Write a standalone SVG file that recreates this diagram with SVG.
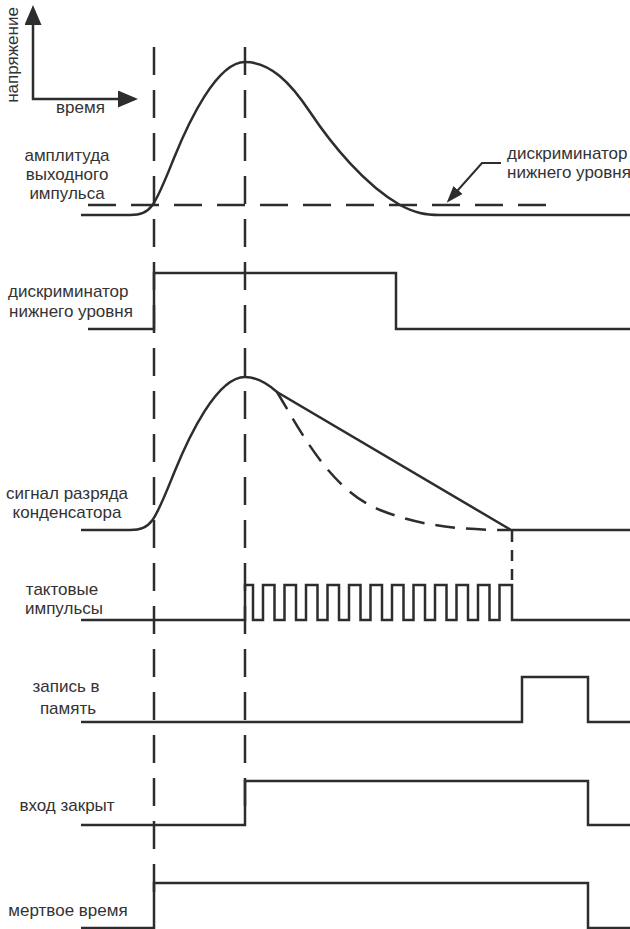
<svg xmlns="http://www.w3.org/2000/svg" width="630" height="929" viewBox="0 0 630 929">
<defs>
<marker id="ah" viewBox="0 0 20 17" refX="13" refY="8.5" markerWidth="20" markerHeight="17" markerUnits="userSpaceOnUse" orient="auto-start-reverse"><path d="M0,0 L20,8.5 L0,17 z" fill="#2d2d2d"/></marker>
<marker id="ahs" viewBox="0 0 17 12" refX="12" refY="6" markerWidth="17" markerHeight="12" markerUnits="userSpaceOnUse" orient="auto"><path d="M0,0 L17,6 L0,12 z" fill="#2d2d2d"/></marker>
</defs>
<style>
.sig{fill:none;stroke:#2d2d2d;stroke-width:2.5;stroke-linejoin:miter}
.guide{fill:none;stroke:#2d2d2d;stroke-width:2.5;stroke-dasharray:28 15}
.lbl{font-family:"Liberation Sans",Arial,sans-serif;font-size:17px;fill:#333}
.c{text-anchor:middle}
</style>
<rect width="630" height="929" fill="#fff"/>

<g id="axes">
<path class="sig" d="M33,12 V99 H131" marker-start="url(#ah)" marker-end="url(#ah)"/>
<text class="lbl c" transform="translate(18,55) rotate(-90)">напряжение</text>
<text class="lbl" x="56" y="113">время</text>
</g>

<g id="guides">
<path class="guide" d="M154,47 V892"/>
<path class="guide" d="M245,47 V806"/>
<path class="guide" d="M88,205 H547"/>
<path class="guide" d="M512,531 V585" style="stroke-dasharray:11 8"/>
<path class="guide" d="M277,392 C300,430 330,490 380,510 C420,526 460,530 510,530" style="stroke-dasharray:20 11"/>
</g>

<g id="output-pulse">
<path class="sig" d="M81,215 H130 C152,215 155,205 174,158 C189,121 217,62 245,62 C270,62 290,82 310,112 C332,145 365,185 400,205 C415,213 425,215 440,215 H630"/>
<text class="lbl c" x="67" y="161">амплитуда</text>
<text class="lbl c" x="67" y="180">выходного</text>
<text class="lbl c" x="67" y="199">импульса</text>
</g>

<g id="threshold-label">
<text class="lbl" x="507" y="159">дискриминатор</text>
<text class="lbl" x="507" y="178">нижнего уровня</text>
<path class="sig" style="stroke-width:2" d="M501,163 H482 L450,199" marker-end="url(#ahs)"/>
</g>

<g id="discriminator">
<path class="sig" d="M88,329 H154 V273 H396 V329 H630"/>
<text class="lbl" x="8" y="297">дискриминатор</text>
<text class="lbl" x="9" y="317">нижнего уровня</text>
</g>

<g id="capacitor">
<path class="sig" d="M81,530 H130 C152,530 155,520 174,473 C189,436 217,377 245,377 C258,377 268,384 277,392 L511,530 H630"/>
<text class="lbl c" x="67" y="499">сигнал разряда</text>
<text class="lbl c" x="67" y="518">конденсатора</text>
</g>

<g id="clock">
<path class="sig" d="M81,620 H245 V585 H253 V620 H263 V585 H274.5 V620 H284.5 V585 H296 V620 H306 V585 H317.5 V620 H327.5 V585 H339 V620 H349 V585 H360.5 V620 H370.5 V585 H382 V620 H392 V585 H403.5 V620 H413.5 V585 H425 V620 H435 V585 H446.5 V620 H456.5 V585 H468 V620 H478 V585 H489.5 V620 H499.5 V585 H512 V620 H630"/>
<text class="lbl c" x="62" y="595">тактовые</text>
<text class="lbl c" x="64" y="614">импульсы</text>
</g>

<g id="memory-write">
<path class="sig" d="M81,722 H522 V677 H588 V722 H630"/>
<text class="lbl c" x="66" y="692">запись в</text>
<text class="lbl c" x="68" y="714">память</text>
</g>

<g id="input-closed">
<path class="sig" d="M81,825 H245 V781 H588 V825 H630"/>
<text class="lbl c" x="67" y="811">вход закрыт</text>
</g>

<g id="dead-time">
<path class="sig" d="M81,928 H154 V883 H588 V928 H630"/>
<text class="lbl c" x="68" y="916">мертвое время</text>
</g>
</svg>
